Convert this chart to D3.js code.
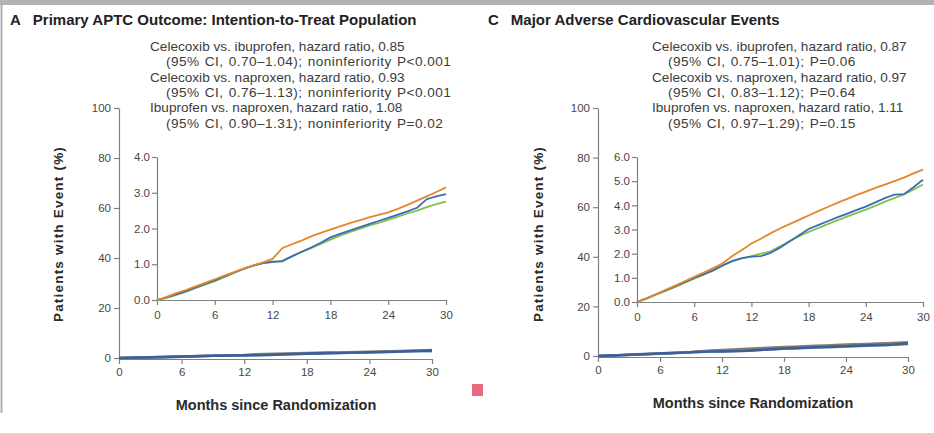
<!DOCTYPE html>
<html>
<head>
<meta charset="utf-8">
<script src="https://d3js.org/d3.v7.min.js"></script>
<style>
  html, body { margin: 0; padding: 0; background: #fff; overflow: hidden; }
  svg { display: block; font-family: "Liberation Sans", Arial, sans-serif; }
  .axis path, .axis line { stroke: #808080; stroke-width: 1.2; }
  .axis text { fill: #474747; font-size: 11.5px; font-family: "Liberation Sans", Arial, sans-serif; }
  .note { fill: #3c3c3c; font-size: 13.6px; }
  .note.ci { letter-spacing: 0.45px; word-spacing: 1px; }
  .title { fill: #222; font-size: 15px; font-weight: bold; }
  .axtitle { fill: #2a2a2a; font-size: 13.5px; font-weight: bold; }
</style>
</head>
<body>
<svg id="chart" width="934" height="433"></svg>
<script>
// months since randomization
const months = [0,1,2,3,4,5,6,7,8,9,10,11,12,13,14,15,16,17,18,19,20,21,22,23,24,25,26,27,28,29,30];
const xTicks = [0, 6, 12, 18, 24, 30];
const outerYTicks = [0, 20, 40, 60, 80, 100];

// panel A: primary APTC outcome, cumulative % with event
const aIbuprofen = [0,0.09,0.19,0.28,0.38,0.48,0.58,0.68,0.78,0.88,0.97,1.05,1.15,1.45,1.56,1.66,1.78,1.88,1.97,2.06,2.15,2.23,2.31,2.38,2.45,2.55,2.66,2.78,2.9,3.02,3.15];
const aNaproxen  = [0,0.07,0.16,0.25,0.35,0.45,0.55,0.66,0.77,0.87,0.96,1.03,1.07,1.08,1.22,1.35,1.47,1.6,1.75,1.85,1.94,2.03,2.12,2.21,2.3,2.39,2.48,2.58,2.82,2.9,2.96];
const aCelecoxib = [0,0.06,0.14,0.23,0.33,0.43,0.53,0.64,0.76,0.87,0.97,1.03,1.06,1.1,1.22,1.34,1.45,1.57,1.69,1.8,1.9,1.99,2.08,2.16,2.24,2.33,2.42,2.5,2.6,2.68,2.75];
const aInsetTicks = [0, 1, 2, 3, 4];

// panel C: major adverse cardiovascular events
const cIbuprofen = [0,0.15,0.32,0.5,0.68,0.86,1.04,1.22,1.4,1.6,1.9,2.15,2.42,2.62,2.84,3.04,3.22,3.4,3.58,3.76,3.93,4.1,4.26,4.42,4.57,4.72,4.86,5.0,5.15,5.32,5.48];
const cNaproxen  = [0,0.15,0.32,0.48,0.64,0.82,1.0,1.15,1.32,1.52,1.7,1.82,1.88,1.9,2.03,2.25,2.5,2.76,3.02,3.18,3.34,3.5,3.65,3.8,3.95,4.12,4.3,4.44,4.46,4.75,5.06];
const cCelecoxib = [0,0.14,0.3,0.46,0.62,0.8,0.97,1.13,1.3,1.5,1.68,1.8,1.9,2.0,2.1,2.3,2.52,2.72,2.9,3.06,3.22,3.38,3.53,3.68,3.82,3.98,4.15,4.3,4.45,4.65,4.86];
const cInsetTicks = [0, 1, 2, 3, 4, 5, 6];

const aNotes = [
  "Celecoxib vs. ibuprofen, hazard ratio, 0.85",
  "(95% CI, 0.70\u20131.04); noninferiority P<0.001",
  "Celecoxib vs. naproxen, hazard ratio, 0.93",
  "(95% CI, 0.76\u20131.13); noninferiority P<0.001",
  "Ibuprofen vs. naproxen, hazard ratio, 1.08",
  "(95% CI, 0.90\u20131.31); noninferiority P=0.02"
];
const cNotes = [
  "Celecoxib vs. ibuprofen, hazard ratio, 0.87",
  "(95% CI, 0.75\u20131.01); P=0.06",
  "Celecoxib vs. naproxen, hazard ratio, 0.97",
  "(95% CI, 0.83\u20131.12); P=0.64",
  "Ibuprofen vs. naproxen, hazard ratio, 1.11",
  "(95% CI, 0.97\u20131.29); P=0.15"
];

const colors = { ibuprofen: "#e4862c", naproxen: "#3b6cb5", celecoxib: "#84c04c" };
const outerColors = { ibuprofen: "#8a7a6a", naproxen: "#3d5f98", celecoxib: "#6f93b8" };

const svg = d3.select("#chart");

// scan frame
svg.append("rect").attr("x", 0).attr("y", 0).attr("width", 934).attr("height", 5).attr("fill", "#b3b3b3");
svg.append("line").attr("x1", 1.5).attr("x2", 1.5).attr("y1", 5).attr("y2", 413)
  .attr("stroke", "#b0b0b0").attr("stroke-width", 2);
svg.append("rect").attr("x", 472).attr("y", 384).attr("width", 11).attr("height", 12).attr("fill", "#e9697f");

function drawPanel(cfg) {
  const g = svg.append("g");

  g.append("text").attr("class", "title").attr("x", cfg.titleX).attr("y", 25)
    .text(cfg.letter).append("tspan").attr("dx", 12).text(cfg.title);

  g.selectAll(".note").data(cfg.notes).enter().append("text")
    .attr("class", (d, i) => i % 2 ? "note ci" : "note")
    .attr("x", (d, i) => i % 2 ? cfg.noteX + 16 : cfg.noteX)
    .attr("y", (d, i) => 51 + i * 15.3)
    .text(d => d);

  // outer full-scale plot
  const ox = d3.scaleLinear().domain([0, 30]).range(cfg.outerX);
  const oy = d3.scaleLinear().domain([0, 100]).range(cfg.outerY);

  g.append("g").attr("class", "axis").attr("transform", `translate(${cfg.outerX[0]},0)`)
    .call(d3.axisLeft(oy).tickValues(outerYTicks).tickSize(5).tickPadding(3).tickSizeOuter(0));
  g.append("g").attr("class", "axis").attr("transform", `translate(0,${cfg.outerY[0] + 1})`)
    .call(d3.axisBottom(ox).tickValues(xTicks).tickSize(5).tickPadding(4).tickSizeOuter(0));

  const oline = d3.line().x((d, i) => ox(months[i])).y(d => oy(d));
  [["ibuprofen", cfg.ibu], ["celecoxib", cfg.cel], ["naproxen", cfg.nap]].forEach(([k, vals]) => {
    g.append("path").datum(vals).attr("d", oline)
      .attr("fill", "none").attr("stroke", outerColors[k]).attr("stroke-width", 2.6);
  });

  // inset zoomed plot
  const ix = d3.scaleLinear().domain([0, 30]).range(cfg.insetX);
  const iy = d3.scaleLinear().domain([0, cfg.insetMax]).range(cfg.insetY);

  g.append("g").attr("class", "axis").attr("transform", `translate(${cfg.insetX[0]},0)`)
    .call(d3.axisLeft(iy).tickValues(cfg.insetTicks).tickFormat(d3.format(".1f")).tickSize(5).tickPadding(2).tickSizeOuter(0));
  g.append("g").attr("class", "axis").attr("transform", `translate(0,${cfg.insetY[0]})`)
    .call(d3.axisBottom(ix).tickValues(xTicks).tickSize(5).tickPadding(6).tickSizeOuter(0));

  const iline = d3.line().x((d, i) => ix(months[i])).y(d => iy(d));
  [["celecoxib", cfg.cel], ["naproxen", cfg.nap], ["ibuprofen", cfg.ibu]].forEach(([k, vals]) => {
    g.append("path").datum(vals).attr("d", iline)
      .attr("fill", "none").attr("stroke", colors[k]).attr("stroke-width", 1.8);
  });

  g.append("text").attr("class", "axtitle").style("letter-spacing", "1.2px")
    .attr("transform", `translate(${cfg.yTitleX},${cfg.yTitleY}) rotate(-90)`)
    .attr("text-anchor", "middle").text("Patients with Event (%)");
  g.append("text").attr("class", "axtitle").style("font-size", "14.5px")
    .attr("x", cfg.xTitleX).attr("y", cfg.xTitleY).attr("text-anchor", "middle")
    .text("Months since Randomization");
}

drawPanel({
  letter: "A", title: "Primary APTC Outcome: Intention-to-Treat Population", titleX: 10,
  notes: aNotes, noteX: 150,
  outerX: [119, 432], outerY: [358, 108],
  insetX: [157, 446], insetY: [300, 157], insetMax: 4, insetTicks: aInsetTicks,
  ibu: aIbuprofen, nap: aNaproxen, cel: aCelecoxib,
  yTitleX: 63, yTitleY: 234, xTitleX: 276, xTitleY: 410
});

drawPanel({
  letter: "C", title: "Major Adverse Cardiovascular Events", titleX: 488,
  notes: cNotes, noteX: 652,
  outerX: [598, 908], outerY: [356, 108],
  insetX: [637, 923], insetY: [302, 157], insetMax: 6, insetTicks: cInsetTicks,
  ibu: cIbuprofen, nap: cNaproxen, cel: cCelecoxib,
  yTitleX: 543, yTitleY: 234, xTitleX: 753, xTitleY: 408
});
</script>
</body>
</html>
